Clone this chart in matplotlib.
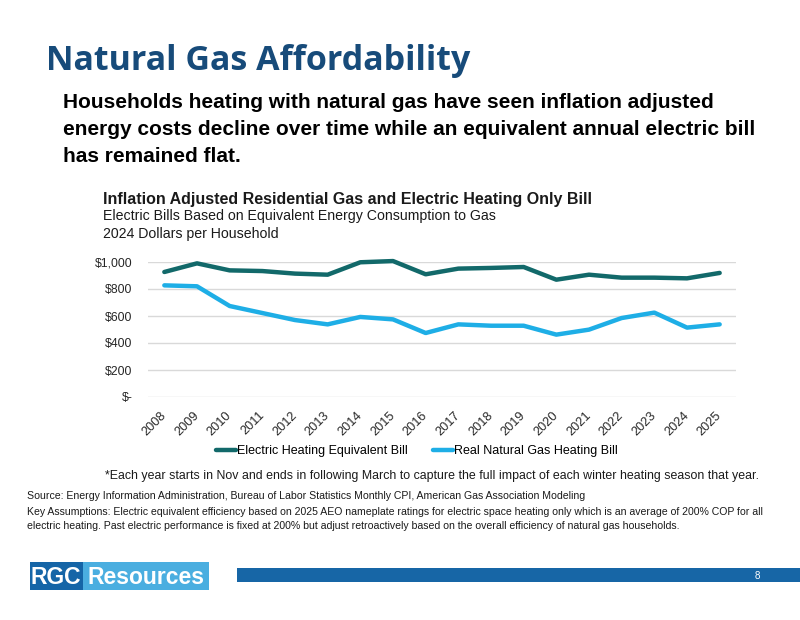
import matplotlib.pyplot as plt
from matplotlib.patches import Rectangle

years = [str(y) for y in range(2008, 2026)]
electric = [926, 990, 938, 933, 914, 906, 998, 1007, 909, 951, 956, 963, 869, 906, 884, 884, 879, 919]
gas = [827, 820, 674, 622, 570, 538, 593, 575, 474, 538, 528, 528, 462, 499, 585, 625, 514, 538]
y_ticks = [0, 200, 400, 600, 800, 1000]
y_labels = ['$-', '$200', '$400', '$600', '$800', '$1,000']

W, H = 800, 620
SANS = ['Liberation Sans', 'DejaVu Sans']
plt.rcParams['font.family'] = SANS


def px(x, y):
    return x / W, 1 - y / H


fig = plt.figure(figsize=(8, 6.2), dpi=100)

# header
fig.text(*px(46, 61), 'Natural Gas Affordability', family=['Open Sans', 'DejaVu Sans'],
         weight='bold', fontsize=24.5, color='#174b7a', va='center')
sub = ('Households heating with natural gas have seen inflation adjusted\n'
       'energy costs decline over time while an equivalent annual electric bill\n'
       'has remained flat.')
fig.text(*px(63, 93), sub, fontsize=15, weight='bold', va='top', linespacing=1.55)

# chart titles
fig.text(*px(103, 199), 'Inflation Adjusted Residential Gas and Electric Heating Only Bill',
         fontsize=11.5, weight='bold', va='center', color='#1a1a1a')
fig.text(*px(103, 216), 'Electric Bills Based on Equivalent Energy Consumption to Gas',
         fontsize=10.2, va='center', color='#1a1a1a')
fig.text(*px(103, 234), '2024 Dollars per Household', fontsize=10.2, va='center', color='#1a1a1a')

# plot
ax = fig.add_axes([148 / W, 1 - 397 / H, (736 - 148) / W, (397 - 262) / H])
x = range(len(years))
ax.plot(x, electric, color='#12696a', lw=3.2, label='Electric Heating Equivalent Bill',
        solid_capstyle='round', clip_on=False, zorder=3)
ax.plot(x, gas, color='#1eaee6', lw=3.2, label='Real Natural Gas Heating Bill',
        solid_capstyle='round', clip_on=False, zorder=3)
ax.set_xlim(-0.5, len(years) - 0.5)
ax.set_ylim(0, 1000)
ax.set_yticks(y_ticks)
ax.set_yticklabels(y_labels)
ax.set_xticks(list(x))
ax.set_xticklabels(years, rotation=45, ha='right', va='center', rotation_mode='anchor')
ax.tick_params(axis='y', length=0, pad=11, labelsize=8.8, labelcolor='#262626')
ax.tick_params(axis='x', length=0, pad=12, labelsize=9.2, labelcolor='#262626')
ax.grid(axis='y', color='#d9d9d9', lw=1)
ax.set_axisbelow(True)
for s in ax.spines.values():
    s.set_visible(False)

ax.legend(loc='center', bbox_to_anchor=(px(417, 451)), bbox_transform=fig.transFigure,
          ncol=2, frameon=False, fontsize=9, handlelength=1.6, handletextpad=0.1,
          columnspacing=2.0)

# notes
fig.text(*px(105, 476), '*Each year starts in Nov and ends in following March to capture the full '
         'impact of each winter heating season that year.', fontsize=8.9, va='center', color='#1a1a1a')
fig.text(*px(27, 496), 'Source: Energy Information Administration, Bureau of Labor Statistics Monthly CPI, '
         'American Gas Association Modeling', fontsize=7.6, va='center', color='#1a1a1a')
fig.text(*px(27, 519), 'Key Assumptions: Electric equivalent efficiency based on 2025 AEO nameplate ratings '
         'for electric space heating only which is an average of 200% COP for all\n'
         'electric heating. Past electric performance is fixed at 200% but adjust retroactively '
         'based on the overall efficiency of natural gas households.',
         fontsize=7.6, va='center', color='#1a1a1a', linespacing=1.4)

# footer logo and bar
fig.patches.append(Rectangle(px(30, 590), 53 / W, 28 / H, transform=fig.transFigure,
                             color='#1565a7', lw=0))
fig.patches.append(Rectangle(px(83, 590), 126 / W, 28 / H, transform=fig.transFigure,
                             color='#4aaee0', lw=0))
fig.patches.append(Rectangle(px(237, 582), (W - 237) / W, 14 / H, transform=fig.transFigure,
                             color='#1766a6', lw=0))
fig.text(*px(56, 577), 'RGC', fontsize=16.5, weight='bold',
         color='white', ha='center', va='center')
fig.text(*px(146, 577), 'Resources', fontsize=16.5, weight='bold',
         color='white', ha='center', va='center')
fig.text(*px(757, 576), '8', fontsize=7, color='white', ha='center', va='center')

fig.savefig('out.png', dpi=100)
